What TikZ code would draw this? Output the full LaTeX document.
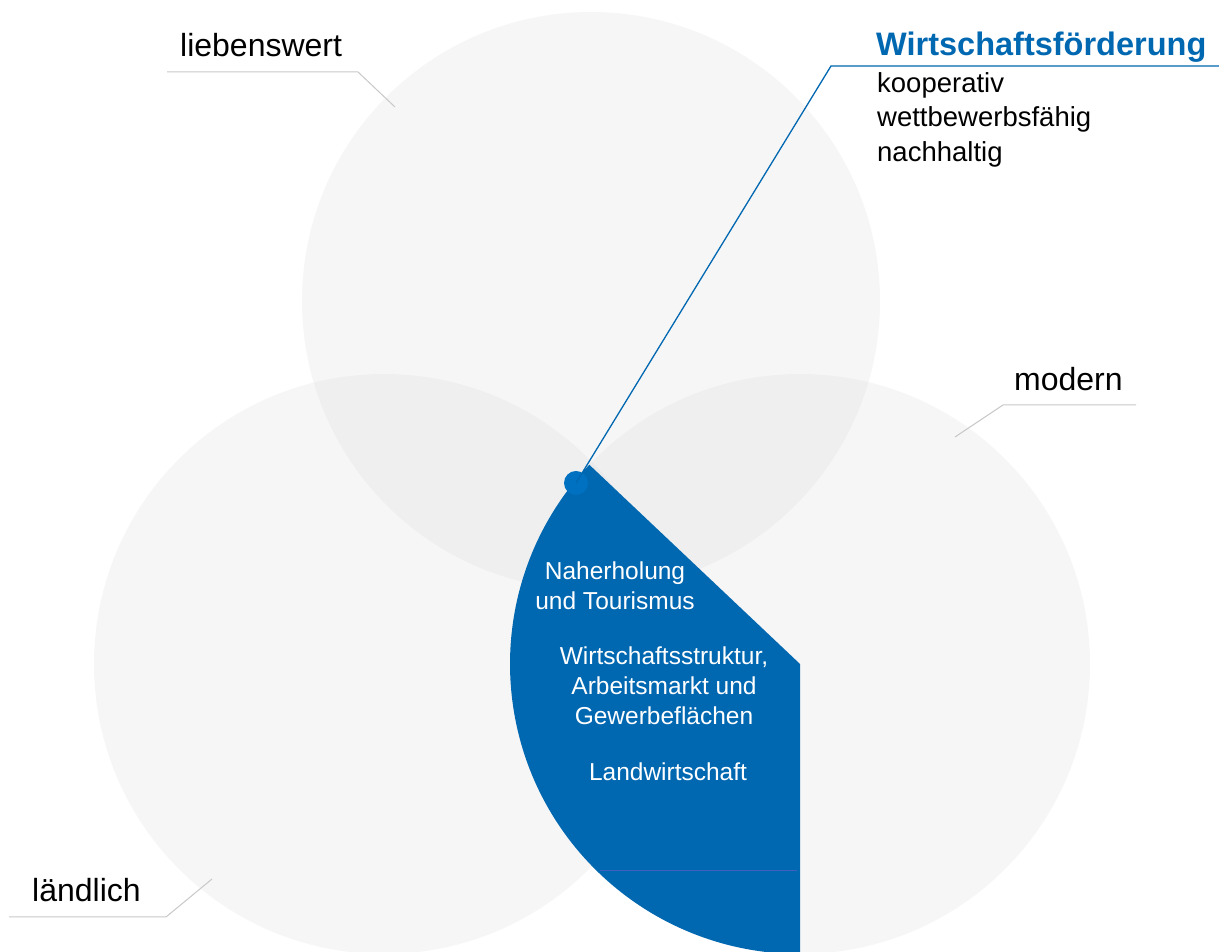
\documentclass[tikz,border=0pt]{standalone}
\usepackage{fontspec}
\setmainfont{Liberation Sans}
\definecolor{wfblue}{RGB}{0,103,177}
\definecolor{dotblue}{RGB}{0,112,192}
\definecolor{seamblue}{RGB}{64,96,192}
\definecolor{ringgray}{RGB}{215,215,215}
\definecolor{leadgray}{RGB}{200,200,200}
\begin{document}
\begin{tikzpicture}[x=1pt,y=1pt,
ring/.style={%
fill=ringgray,
fill opacity=0.22
},
lead/.style={draw=leadgray, line width=1pt},
label/.style={anchor=base west, inner sep=0pt, font=\fontsize{32}{38}\selectfont},
inner/.style={anchor=north, inner sep=0pt, align=center, text=white,
  font=\fontsize{24.5}{30}\selectfont}
]
\useasboundingbox (0,0) rectangle (1219,952);
%% Circles
\coordinate (ctop) at (591,651);
\coordinate (cleft) at (384,288);
\coordinate (cright) at (800,288);
\fill[ring](ctop) circle (289);
\fill[ring](cleft) circle (290);
\fill[ring](cright) circle (290);
%% Highlighted sector
\fill[wfblue](cright)--+(136.6:290) arc[start angle=136.6, end angle=270, radius=290]--cycle;
\coordinate (sl) at (600,82);
\coordinate (sr) at (797,82);
\draw[seamblue, line width=0.5pt](sl)--(sr);
%% Leader to the heading
\node[circle, fill=dotblue, minimum size=24pt, inner sep=0pt]at(576,469)(dot){};
\coordinate (knee) at (831,886);
\coordinate (lineend) at (1219,886);
\draw[wfblue, line width=1.3pt](dot.center)--(knee)--(lineend);
\node[label, font=\bfseries\fontsize{32.5}{38}\selectfont, text=wfblue]at(876,896)(head){Wirtschaftsförderung};
\node[anchor=north west, inner sep=0pt, align=left, font=\fontsize{27.5}{34.5}\selectfont]at(877,880)(list){kooperativ\\wettbewerbsfähig\\nachhaltig};
%% Circle labels
\node[label]at(180,895)(lieb){liebenswert};
\coordinate (l1) at (167,880);
\coordinate (l2) at (358,880);
\coordinate (l3) at (395,845);
\draw[lead](l1)--(l2)--(l3);
\node[label]at(1014,561)(mod){modern};
\coordinate (m1) at (1136,547);
\coordinate (m2) at (1003,547);
\coordinate (m3) at (955,515);
\draw[lead](m1)--(m2)--(m3);
\node[label]at(32,50)(land){ländlich};
\coordinate (d1) at (9,35);
\coordinate (d2) at (166,35);
\coordinate (d3) at (212,73);
\draw[lead](d1)--(d2)--(d3);
%% Topics inside the sector
\node[inner]at(615,390)(erh){Naherholung\\und Tourismus};
\node[inner]at(664,305.5)(wis){Wirtschaftsstruktur,\\Arbeitsmarkt und\\Gewerbeflächen};
\node[inner]at(668,189.5)(lw){Landwirtschaft};
\end{tikzpicture}
\end{document}
